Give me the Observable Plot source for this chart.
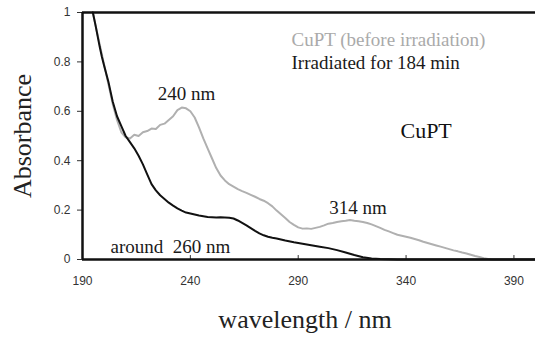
<!DOCTYPE html>
<html>
<head>
<meta charset="utf-8">
<script src="https://cdn.jsdelivr.net/npm/d3@7"></script>
<script src="https://cdn.jsdelivr.net/npm/@observablehq/plot@0.6"></script>
<style>
  html, body { margin: 0; padding: 0; background: #fff; }
  svg text { white-space: pre; }
</style>
</head>
<body>
<div id="chart"></div>
<script>
// Wavelength (nm) and absorbance
const beforeWl = [194.8,196,198,200,202,204,206,208,210,212,214,216,218,220,222,224,226,228,230,232,234,236,238,240,242,244,246,248,250,252,254,256,258,260,262,264,266,268,270,272,274,276,278,280,282,284,286,288,290,292,294,296,298,300,302,304,306,308,310,312,314,316,318,320,322,324,326,328,330,332,334,336,338,340,342,344,346,348,350,352,354,356,358,360,362,364,366,368,370,372,374,376,378,380,390,400];
const beforeAbs = [1.0,0.95,0.87,0.79,0.71,0.63,0.565,0.515,0.495,0.49,0.505,0.50,0.515,0.52,0.53,0.528,0.545,0.55,0.565,0.58,0.605,0.615,0.612,0.60,0.575,0.535,0.49,0.45,0.41,0.37,0.34,0.32,0.305,0.295,0.285,0.277,0.27,0.262,0.254,0.245,0.238,0.228,0.215,0.198,0.183,0.168,0.152,0.14,0.13,0.125,0.126,0.124,0.128,0.132,0.138,0.145,0.148,0.152,0.155,0.157,0.16,0.157,0.155,0.152,0.148,0.142,0.135,0.128,0.12,0.114,0.107,0.10,0.096,0.092,0.088,0.083,0.078,0.072,0.067,0.062,0.057,0.052,0.047,0.042,0.037,0.033,0.028,0.024,0.019,0.014,0.01,0.005,0.002,0,0,0];

const afterWl = [194.8,196,198,199,200,202,204,206,208,210,212,214,216,218,220,222,224,226,228,230,232,234,236,238,240,242,244,246,248,250,252,254,256,258,260,262,264,266,268,270,272,274,276,278,280,284,288,292,296,300,304,308,312,316,320,324,328,332,336,360,400];
const afterAbs = [1.0,0.95,0.86,0.82,0.785,0.72,0.64,0.58,0.54,0.50,0.475,0.45,0.42,0.385,0.345,0.305,0.28,0.26,0.245,0.23,0.218,0.207,0.198,0.19,0.186,0.182,0.178,0.175,0.172,0.171,0.17,0.171,0.17,0.169,0.166,0.158,0.148,0.138,0.127,0.116,0.106,0.098,0.092,0.088,0.085,0.077,0.07,0.064,0.058,0.052,0.046,0.038,0.028,0.018,0.009,0.004,0.002,0.001,0,0,0];

const xTicks = [190, 240, 290, 340, 390];
const yTicks = [0, 0.2, 0.4, 0.6, 0.8, 1];

const peakText = ["240 nm", "314 nm"];
const peakWl = [238.2, 317.7];
const peakAbs = [0.644, 0.186];

const shoulderText = "around\u00a0 260 nm";
const shoulderWl = 203, shoulderAbs = 0.028;

const legendText = ["CuPT (before irradiation)", "Irradiated for 184 min"];
const legendWl = [286.9, 286.9];
const legendAbs = [0.866, 0.773];

const sampleLabel = "CuPT";
const sampleWl = 337.4, sampleAbs = 0.49;

const before = beforeWl.map((w, i) => ({wl: w, a: beforeAbs[i]}));
const after = afterWl.map((w, i) => ({wl: w, a: afterAbs[i]}));
const peaks = peakText.map((t, i) => ({t, wl: peakWl[i], a: peakAbs[i]}));
const legend = legendText.map((t, i) => ({t, wl: legendWl[i], a: legendAbs[i], c: i === 0 ? "#aaaaaa" : "#1a1a1a"}));

const serif = '"Liberation Serif", "Times New Roman", serif';

const chart = Plot.plot({
  width: 535,
  height: 340,
  marginLeft: 82,
  marginRight: 0,
  marginTop: 12,
  marginBottom: 81,
  x: {domain: [190, 400], label: null},
  y: {domain: [0, 1], label: null},
  style: {fontFamily: '"Liberation Sans", Arial, sans-serif', fontSize: "12px", background: "#fff", color: "#333"},
  marks: [
    Plot.axisY({ticks: yTicks, tickFormat: d => String(d), tickSize: 5, tickPadding: 7, label: null, stroke: "#333"}),
    Plot.axisX({ticks: xTicks, tickFormat: d => String(d), tickSize: 0, tickPadding: 17, label: null}),
    Plot.ruleX(xTicks, {x: d => d, y1: 0, y2: 0.016, stroke: "#333"}),
    Plot.lineY(before, {x: "wl", y: "a", stroke: "#b0b0b0", strokeWidth: 2}),
    Plot.lineY(after, {x: "wl", y: "a", stroke: "#111", strokeWidth: 2}),
    Plot.ruleY([0], {stroke: "#111", strokeWidth: 2.5}),
    Plot.ruleY([1], {stroke: "#111", strokeWidth: 2.5}),
    Plot.ruleX([190], {stroke: "#111", strokeWidth: 2.5}),
    Plot.text(peaks, {x: "wl", y: "a", text: "t", textAnchor: "middle", lineAnchor: "bottom", fontFamily: serif, fontSize: 19, fill: "#1a1a1a"}),
    Plot.text([shoulderText], {x: shoulderWl, y: shoulderAbs, text: d => d, textAnchor: "start", lineAnchor: "bottom", fontFamily: serif, fontSize: 19, fill: "#1a1a1a"}),
    Plot.text(legend, {x: "wl", y: "a", text: "t", textAnchor: "start", lineAnchor: "bottom", fontFamily: serif, fontSize: 19, fill: "c"}),
    Plot.text([sampleLabel], {x: sampleWl, y: sampleAbs, text: d => d, textAnchor: "start", lineAnchor: "bottom", fontFamily: serif, fontSize: 22, fill: "#111"}),
    Plot.text(["Absorbance"], {frameAnchor: "left", dx: -60, rotate: -90, textAnchor: "middle", text: d => d, fontFamily: serif, fontSize: 26, fill: "#222"}),
    Plot.text(["wavelength / nm"], {frameAnchor: "bottom", dy: 68, dx: -4, lineAnchor: "bottom", text: d => d, fontFamily: serif, fontSize: 26, fill: "#222"})
  ]
});
document.getElementById("chart").appendChild(chart);
</script>
</body>
</html>
